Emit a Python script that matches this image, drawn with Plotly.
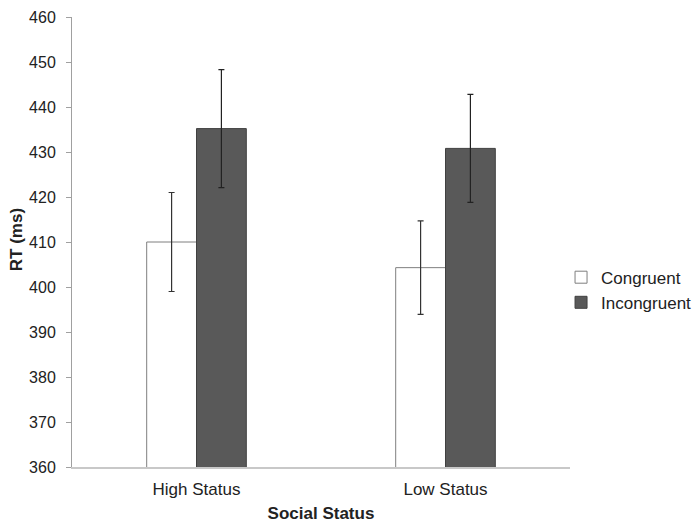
import plotly.graph_objects as go

categories = ["High Status", "Low Status"]
congruent = [410.0, 404.3]
congruent_err = [11.0, 10.4]
incongruent = [435.2, 430.8]
incongruent_err = [13.1, 12.0]
y_ticks = [360, 370, 380, 390, 400, 410, 420, 430, 440, 450, 460]

fig = go.Figure()
fig.add_trace(go.Bar(
    x=categories, y=congruent, name="Congruent",
    marker=dict(color="white", line=dict(color="#7f7f7f", width=1)),
    error_y=dict(type="data", array=congruent_err, color="#333333", thickness=1.2, width=3),
))
fig.add_trace(go.Bar(
    x=categories, y=incongruent, name="Incongruent",
    marker=dict(color="#595959", line=dict(color="#404040", width=1)),
    error_y=dict(type="data", array=incongruent_err, color="#222222", thickness=1.2, width=3),
))

fig.update_layout(
    width=692, height=515,
    margin=dict(l=64, r=130, t=9, b=56, autoexpand=False),
    paper_bgcolor="white", plot_bgcolor="white",
    barmode="group", bargap=0.6, bargroupgap=0,
    font=dict(family="Liberation Sans, Arial, sans-serif", size=16, color="#222222"),
    showlegend=True,
    legend=dict(x=0.982, xanchor="left", y=0.393, yanchor="middle",
                font=dict(size=17, color="#222222"), itemwidth=30,
                tracegroupgap=0, bgcolor="rgba(0,0,0,0)"),
    xaxis=dict(
        showline=True, linecolor="#c8c8c8", linewidth=1.5, ticks="",
        showgrid=False, zeroline=False, automargin=False,
        title=dict(text="<b>Social Status</b>", font=dict(size=17), standoff=12),
        tickfont=dict(size=17), ticklabelstandoff=6,
    ),
    yaxis=dict(
        range=[360, 460], tickvals=y_ticks, showline=True, linecolor="#a0a0a0",
        linewidth=1, ticks="outside", ticklen=5, tickcolor="#a0a0a0",
        showgrid=False, zeroline=False, automargin=False,
        tickfont=dict(size=16), ticklabelstandoff=7, ticklabeloverflow="allow",
    ),
    annotations=[dict(
        text="<b>RT (ms)</b>", xref="paper", yref="paper",
        x=-0.1124, y=0.504, xanchor="center", yanchor="middle",
        textangle=-90, showarrow=False, font=dict(size=17, color="#222222"),
    )],
)

fig.write_html("out.html")
